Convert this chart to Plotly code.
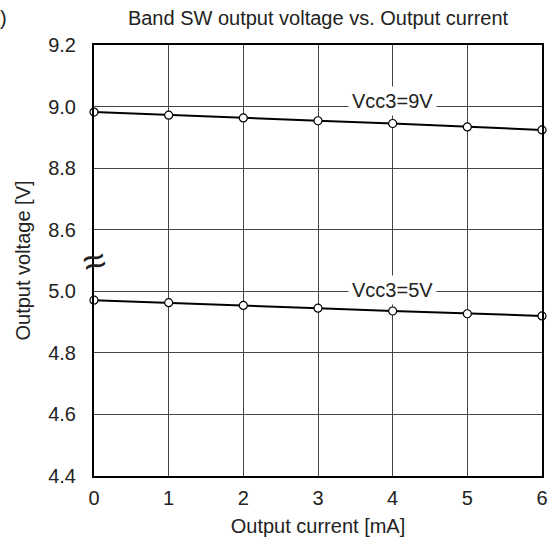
import plotly.graph_objects as go

current_mA = [0, 1, 2, 3, 4, 5, 6]
v_vcc9 = [8.982, 8.972, 8.963, 8.954, 8.945, 8.934, 8.924]
v_vcc5 = [4.971, 4.963, 4.954, 4.945, 4.936, 4.927, 4.920]
y_tick_values = [4.4, 4.6, 4.8, 5.0, 8.6, 8.8, 9.0, 9.2]
x_tick_values = [0, 1, 2, 3, 4, 5, 6]

BREAK_LOW = 5.0
BREAK_HIGH = 8.6
SHIFT = BREAK_HIGH - 0.2 - BREAK_LOW  # broken axis: lower band shifted up


def to_axis(v):
    return v if v >= BREAK_HIGH else v + SHIFT


FONT = "Liberation Sans, Arial, sans-serif"
FS = 20
fig = go.Figure()
for vals in (v_vcc9, v_vcc5):
    fig.add_trace(go.Scatter(
        x=current_mA, y=[to_axis(v) for v in vals], mode="lines+markers",
        line=dict(color="black", width=2),
        marker=dict(symbol="circle", size=8, color="white",
                    line=dict(color="black", width=1.2)),
        showlegend=False, cliponaxis=False, hoverinfo="skip"))

fig.update_layout(
    width=560, height=547,
    margin=dict(l=94, r=13, t=45, b=71),
    paper_bgcolor="white", plot_bgcolor="white",
    font=dict(family=FONT, size=FS, color="#222"),
    title=dict(text="Band SW output voltage vs. Output current",
               x=0.5, xref="paper", y=1 - 18 / 547, yref="container",
               xanchor="center", yanchor="middle",
               font=dict(size=FS, family=FONT, color="#222")),
)
fig.update_xaxes(
    range=[0, 6], tickvals=x_tick_values, ticktext=[str(t) for t in x_tick_values],
    showgrid=True, gridcolor="#444", gridwidth=1, zeroline=False,
    showline=True, linecolor="black", linewidth=2, mirror=True,
    ticks="", ticklabelstandoff=3,
    title=dict(text="Output current [mA]", standoff=11, font=dict(size=FS)),
    tickfont=dict(size=FS))
fig.update_yaxes(
    range=[to_axis(4.4), to_axis(9.2)],
    tickvals=[to_axis(v) for v in y_tick_values],
    ticktext=[f"{v:.1f}" for v in y_tick_values],
    showgrid=True, gridcolor="#444", gridwidth=1, zeroline=False,
    showline=True, linecolor="black", linewidth=2, mirror=True,
    ticks="", ticklabelstandoff=12,
    title=dict(text="Output voltage [V]", standoff=12, font=dict(size=FS)),
    tickfont=dict(size=FS))

fig.add_annotation(x=4, y=to_axis(9.0), yshift=6, text="Vcc3=9V", showarrow=False,
                   bgcolor="white", borderpad=3, font=dict(size=FS, family=FONT, color="#222"))
fig.add_annotation(x=4, y=to_axis(5.0), yshift=1, text="Vcc3=5V", showarrow=False,
                   bgcolor="white", borderpad=3, font=dict(size=FS, family=FONT, color="#222"))
fig.add_annotation(x=0, y=(to_axis(5.0) + to_axis(8.6)) / 2, text="≈", showarrow=False,
                   xanchor="center", yanchor="middle", textangle=-15,
                   font=dict(size=40, family=FONT, color="#222"))
fig.add_annotation(xref="paper", yref="paper", x=-(94 - 8) / 453, y=1 + 27 / 431,
                   text=")", showarrow=False, xanchor="right", yanchor="middle",
                   font=dict(size=FS, family=FONT, color="#222"))

fig.write_html("out.html", post_script="document.body.style.margin='0';",
               config={"displayModeBar": False})
